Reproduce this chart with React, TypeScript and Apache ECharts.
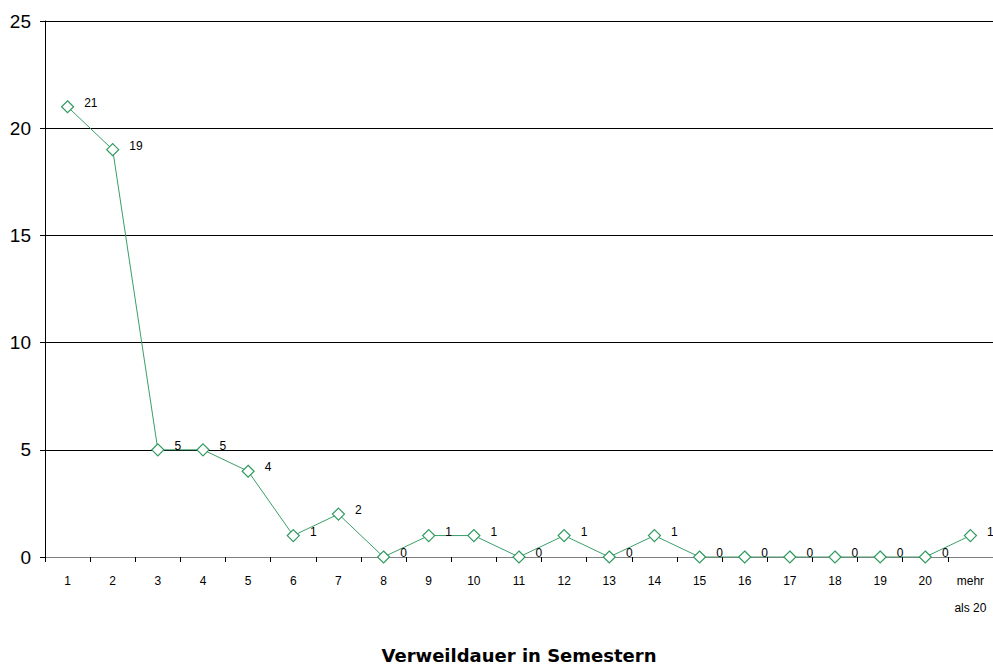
import React, { useEffect, useRef } from "react";
import * as echarts from "echarts";

const categories = ["1","2","3","4","5","6","7","8","9","10","11","12","13","14","15","16","17","18","19","20","mehr\nals 20"];
const values = [21,19,5,5,4,1,2,0,1,1,0,1,0,1,0,0,0,0,0,0,1];
const yTicks = { min: 0, max: 25, interval: 5 };
const axisTitle = "Verweildauer in Semestern";

export default function App() {
  const ref = useRef<HTMLDivElement>(null);
  useEffect(() => {
    document.body.style.margin = "0";
    const chart = echarts.init(ref.current!, null, { renderer: "svg" });
    chart.setOption({
      animation: false,
      backgroundColor: "#ffffff",
      textStyle: { fontFamily: "Liberation Sans, Arial, sans-serif" },
      grid: { left: 45, right: 0, top: 21, bottom: 109, containLabel: false, outerBoundsMode: "none" },
      xAxis: {
        type: "category",
        data: categories,
        boundaryGap: true,
        name: axisTitle,
        nameLocation: "middle",
        nameGap: 89,
        nameTextStyle: { fontSize: 18, fontWeight: "bold", color: "#000", fontFamily: "DejaVu Sans, sans-serif" },
        axisLine: { lineStyle: { color: "#808080", width: 1 } },
        axisTick: { show: true, length: 5, lineStyle: { color: "#000" }, alignWithLabel: false },
        axisLabel: { fontSize: 12, color: "#000", margin: 10, lineHeight: 27, interval: 0 },
        splitLine: { show: false },
      },
      yAxis: {
        type: "value",
        min: yTicks.min,
        max: yTicks.max,
        interval: yTicks.interval,
        axisLine: { show: true, lineStyle: { color: "#000", width: 1 } },
        axisTick: { show: true, length: 5, lineStyle: { color: "#000" } },
        axisLabel: { fontSize: 19, color: "#000", margin: 14 },
        splitLine: { show: true, lineStyle: { color: "#000", width: 1 } },
      },
      series: [
        {
          type: "line",
          data: values,
          symbol: "diamond",
          symbolSize: 12,
          itemStyle: { color: "#ffffff", borderColor: "#2e9a5e", borderWidth: 1.2 },
          lineStyle: { color: "#3a9e6a", width: 1 },
          label: {
            show: true,
            position: "right",
            distance: 10,
            offset: [0, -4],
            fontSize: 12,
            color: "#000",
          },
        },
      ],
    });
    return () => chart.dispose();
  }, []);
  return <div ref={ref} style={{ position: "fixed", left: 0, top: 0, width: 993, height: 666 }} />;
}
